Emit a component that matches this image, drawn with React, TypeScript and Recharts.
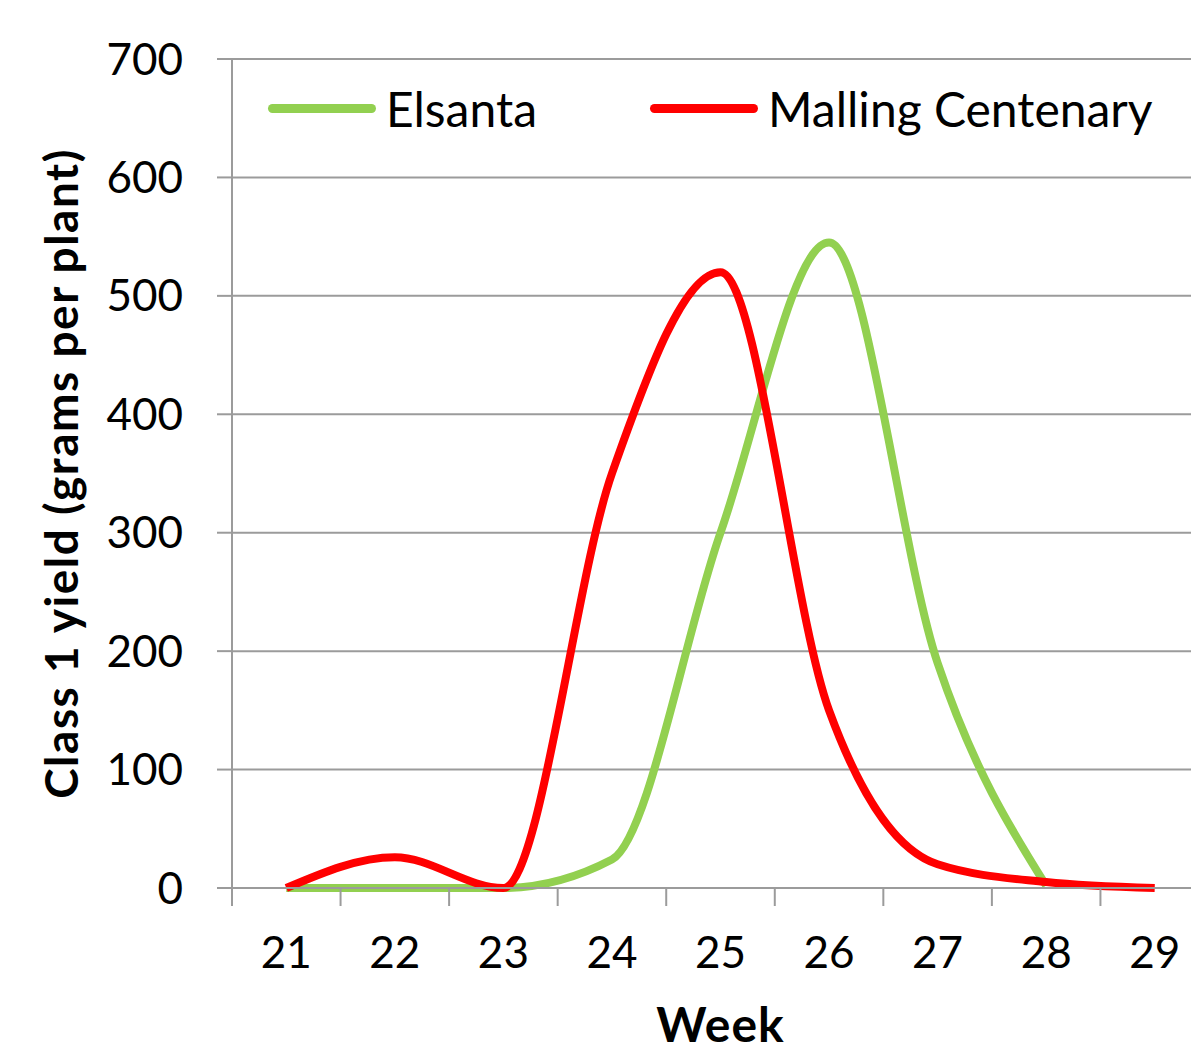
import { LineChart, Line, XAxis, YAxis, CartesianGrid, Legend } from 'recharts';

const weeks = ['21', '22', '23', '24', '25', '26', '27', '28', '29'];
const elsanta = [0, 0, 0, 24, 300, 545, 190, 2, null];
const mallingCentenary = [0, 26, 0, 350, 520, 150, 20, 5, 0];
const yTicks = [0, 100, 200, 300, 400, 500, 600, 700];

const data = weeks.map((week, i) => ({
  week,
  elsanta: elsanta[i],
  malling: mallingCentenary[i],
}));

const CHART_W = 1209;
const CHART_H = 1052;
const LEFT = 232;
const TOP = 59;
const X_AXIS_H = 164;
const BAND = (CHART_W - LEFT) / weeks.length;
const X_TICK_SIZE = 18;
const X_TICK_MARGIN = 31;
const FONT = 'Lato, "Open Sans", sans-serif';
const GRID = '#9b9b9b';
const GREEN = '#92d050';
const RED = '#ff0000';

// Excel-style category axis: tick marks sit between the categories
function WeekTick({ x, y, payload }: any) {
  const axisY = y - X_TICK_SIZE - X_TICK_MARGIN;
  return (
    <g>
      <line
        x1={x - BAND / 2}
        x2={x - BAND / 2}
        y1={axisY}
        y2={axisY + X_TICK_SIZE}
        stroke={GRID}
        strokeWidth={2}
      />
      <text x={x} y={y} dy="0.71em" textAnchor="middle" fill="#000" fontSize={44} fontFamily={FONT}>
        {payload.value}
      </text>
    </g>
  );
}

function YTitle({ viewBox }: any) {
  const cx = viewBox.x + 60;
  const cy = viewBox.y + viewBox.height / 2;
  return (
    <text
      x={cx}
      y={cy}
      transform={`rotate(-90, ${cx}, ${cy})`}
      textAnchor="middle"
      dominantBaseline="central"
      fontSize={46}
      letterSpacing={1.5}
      fontWeight="bold"
      fontFamily={FONT}
      fill="#000"
    >
      Class 1 yield (grams per plant)
    </text>
  );
}

function XTitle({ viewBox }: any) {
  return (
    <text
      x={viewBox.x + viewBox.width / 2}
      y={viewBox.y + viewBox.height - 10}
      textAnchor="middle"
      fontSize={48}
      letterSpacing={1}
      fontWeight="bold"
      fontFamily={FONT}
      fill="#000"
    >
      Week
    </text>
  );
}

function LegendContent({ payload }: any) {
  const widths = [382, 540];
  return (
    <div style={{ display: 'flex', fontFamily: FONT, fontSize: 48, color: '#000' }}>
      {(payload || []).map((item: any, i: number) => (
        <div key={item.value} style={{ display: 'flex', alignItems: 'center', width: widths[i] }}>
          <span
            style={{
              display: 'inline-block',
              width: 108,
              height: 9,
              borderRadius: 5,
              background: item.color,
              marginRight: 10,
            }}
          />
          <span>{item.value}</span>
        </div>
      ))}
    </div>
  );
}

export default function App() {
  return (
    <div
      style={{
        position: 'absolute',
        left: 0,
        top: 0,
        width: 1191,
        height: CHART_H,
        overflow: 'hidden',
        background: '#fff',
      }}
    >
      <LineChart
        width={CHART_W}
        height={CHART_H}
        data={data}
        margin={{ top: TOP, right: 0, bottom: 0, left: 0 }}
      >
        <CartesianGrid horizontal vertical={false} stroke={GRID} strokeWidth={2} />
        <XAxis
          dataKey="week"
          scale="band"
          height={X_AXIS_H}
          axisLine={{ stroke: GRID, strokeWidth: 2 }}
          tickLine={false}
          tickSize={X_TICK_SIZE}
          tickMargin={X_TICK_MARGIN}
          tick={<WeekTick />}
          interval={0}
          label={<XTitle />}
        />
        <YAxis
          width={LEFT}
          domain={[0, 700]}
          ticks={yTicks}
          interval={0}
          axisLine={{ stroke: GRID, strokeWidth: 2 }}
          tickLine={{ stroke: GRID, strokeWidth: 2 }}
          tickSize={15}
          tickMargin={34}
          tick={{ fill: '#000', fontSize: 44, fontFamily: FONT }}
          label={<YTitle />}
        />
        <Legend
          layout="horizontal"
          verticalAlign="middle"
          align="center"
          content={<LegendContent />}
          wrapperStyle={{ top: 80, left: 268, width: 940 }}
        />
        <Line
          type="monotone"
          dataKey="elsanta"
          name="Elsanta"
          stroke={GREEN}
          strokeWidth={8}
          dot={false}
          connectNulls={false}
          isAnimationActive={false}
        />
        <Line
          type="monotone"
          dataKey="malling"
          name="Malling Centenary"
          stroke={RED}
          strokeWidth={8}
          dot={false}
          isAnimationActive={false}
        />
      </LineChart>
    </div>
  );
}
